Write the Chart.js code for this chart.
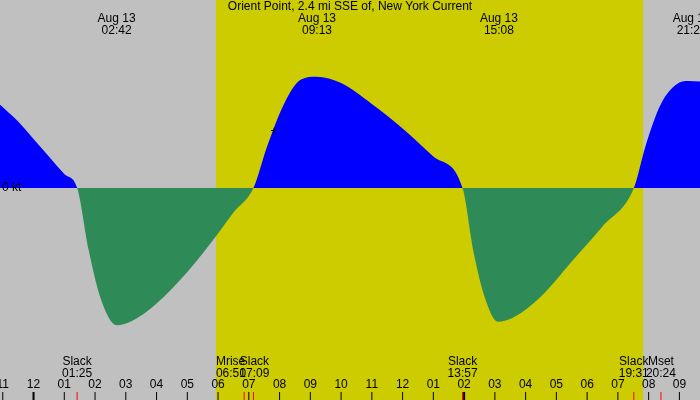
<!DOCTYPE html><html><head><meta charset="utf-8">
<script src="https://cdn.jsdelivr.net/npm/chart.js@4"></script>
<style>html,body{margin:0;padding:0;background:#c0c0c0}#w{width:700px;height:400px}</style></head><body><div id="w"><canvas id="c"></canvas></div>
<script>
const title = "Orient Point, 2.4 mi SSE of, New York Current";
const times = [-1.09,-0.5,0,0.5,1,1.42,1.8,2.2,2.7,3.2,4,5,6,6.5,7.15,7.6,8.2,8.7,9.2,10,11,12,13,13.95,14.3,14.7,15.1,15.6,16.5,17.5,18.5,19.52,19.9,20.4,20.9,21.3,21.67];
const speeds = [1.19,0.95,0.7,0.45,0.2,0,-0.9,-1.6,-1.96,-1.9,-1.65,-1.2,-0.65,-0.35,0,0.6,1.25,1.55,1.59,1.5,1.2,0.85,0.45,0,-0.9,-1.6,-1.91,-1.85,-1.55,-1.05,-0.55,0,0.6,1.2,1.48,1.53,1.52];
const peakTimes = [2.7,9.217,15.133,21.4];
const peakLabels = ["02:42","09:13","15:08","21:24"];
const eventTimes = [1.417,6.85,7.15,13.95,19.517,20.4];
const eventNames = ["Slack","Mrise","Slack","Slack","Slack","Mset"];
const eventLabels = ["01:25","06:51","07:09","13:57","19:31","20:24"];
const hourTicks = [-1,0,1,2,3,4,5,6,7,8,9,10,11,12,13,14,15,16,17,18,19,20,21];
const hourLabels = ["11","12","01","02","03","04","05","06","07","08","09","10","11","12","01","02","03","04","05","06","07","08","09"];
const sunrise = 5.93, sunset = 19.82;

const deco = {id:'deco',
 beforeDraw(ch){const c=ch.ctx,x=ch.scales.x;c.save();c.fillStyle='#c0c0c0';c.fillRect(0,0,700,400);
  c.fillStyle='#cccc00';c.fillRect(x.getPixelForValue(sunrise),0,x.getPixelForValue(sunset)-x.getPixelForValue(sunrise),400);c.restore();},
 afterDraw(ch){const c=ch.ctx,x=ch.scales.x,y=ch.scales.y;c.save();c.fillStyle='#000';c.font='12px "Liberation Sans",Arial,sans-serif';c.textBaseline='middle';
  c.textAlign='center';c.fillText(title,350,7);
  peakTimes.forEach((t,i)=>{const px=x.getPixelForValue(t);c.fillText('Aug 13',px,19);c.fillText(peakLabels[i],px,31);});
  c.textAlign='left';c.fillText('0 kt',2,y.getPixelForValue(0));
  c.textAlign='center';
  hourTicks.forEach((t,i)=>{const px=x.getPixelForValue(t);c.fillText(hourLabels[i],px,385);c.fillRect(px-(t===0||t===14?1:0.5),392,(t===0||t===14)?2:1,8);});
  eventTimes.forEach((t,i)=>{const px=x.getPixelForValue(t);c.fillStyle='#000';c.textAlign=i===1?'left':'center';
   const lx=i===1?x.getPixelForValue(sunrise):(i===2?px+1:px);
   c.fillText(eventNames[i],lx+(i===2?0:0),362);c.fillText(eventLabels[i],lx,374);
   c.fillStyle='#f00';c.fillRect(px-0.5,392,1,8);});
  c.fillStyle='#000';c.fillText('+',274,132);
  c.restore();}};

new Chart(document.getElementById('c'),{type:'line',
 data:{datasets:[{data:times.map((t,i)=>({x:t,y:speeds[i]})),borderWidth:0,pointRadius:0,tension:0.4,cubicInterpolationMode:'monotone',
   fill:{target:'origin',above:'#0000ff',below:'#2e8b57'}}]},
 options:{responsive:true,maintainAspectRatio:false,animation:false,layout:{padding:0},
  plugins:{legend:{display:false},tooltip:{enabled:false}},
  scales:{x:{type:'linear',min:-1.09,max:21.67,display:false},y:{min:-3.029,max:2.686,display:false}}},
 plugins:[deco]});
</script></body></html>
